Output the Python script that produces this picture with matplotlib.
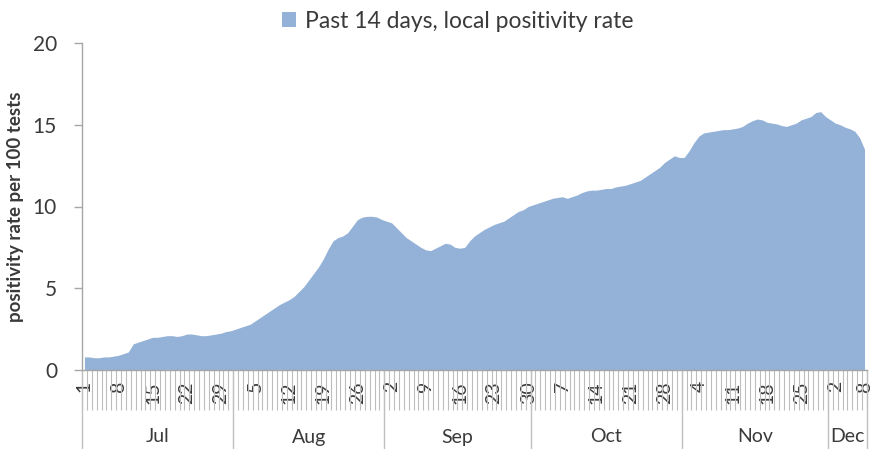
import matplotlib
matplotlib.use("Agg")
import matplotlib.pyplot as plt
from matplotlib.lines import Line2D
from matplotlib.patches import Patch

# ---- data ----
months = ["Jul", "Aug", "Sep", "Oct", "Nov", "Dec"]
month_days = [31, 31, 30, 31, 30, 8]

jul = [0.8, 0.8, 0.75, 0.75, 0.8, 0.8, 0.85, 0.9, 1.0, 1.1,
       1.6, 1.7, 1.8, 1.9, 2.0, 2.0, 2.05, 2.1, 2.1, 2.05,
       2.1, 2.2, 2.2, 2.15, 2.1, 2.1, 2.15, 2.2, 2.25, 2.35, 2.4]
aug = [2.5, 2.6, 2.7, 2.8, 3.0, 3.2, 3.4, 3.6, 3.8, 4.0,
       4.15, 4.3, 4.5, 4.8, 5.1, 5.5, 5.9, 6.3, 6.8, 7.4,
       7.9, 8.1, 8.2, 8.4, 8.8, 9.2, 9.35, 9.4, 9.4, 9.35, 9.2]
sep = [9.1, 9.0, 8.7, 8.4, 8.1, 7.9, 7.7, 7.5, 7.35, 7.3,
       7.45, 7.6, 7.75, 7.7, 7.5, 7.45, 7.5, 7.9, 8.2, 8.4,
       8.6, 8.75, 8.9, 9.0, 9.1, 9.3, 9.5, 9.7, 9.8, 10.0]
oct_ = [10.1, 10.2, 10.3, 10.4, 10.5, 10.55, 10.6, 10.5, 10.6, 10.7,
        10.85, 10.95, 11.0, 11.0, 11.05, 11.1, 11.1, 11.2, 11.25, 11.3,
        11.4, 11.5, 11.6, 11.8, 12.0, 12.2, 12.4, 12.7, 12.9, 13.1, 13.0]
nov = [13.0, 13.4, 13.9, 14.3, 14.5, 14.55, 14.6, 14.65, 14.7, 14.7,
       14.75, 14.8, 14.9, 15.1, 15.25, 15.35, 15.3, 15.15, 15.1, 15.05,
       14.95, 14.9, 15.0, 15.1, 15.3, 15.4, 15.5, 15.75, 15.8, 15.5]
dec = [15.3, 15.1, 15.0, 14.85, 14.75, 14.6, 14.2, 13.5]

values = jul + aug + sep + oct_ + nov + dec
day_numbers = []
for n in month_days:
    day_numbers += list(range(1, n + 1))

legend_label = "Past 14 days, local positivity rate"
y_label = "positivity rate per 100 tests"
y_ticks = [0, 5, 10, 15, 20]

# ---- style ----
FONT = "Lato"
plt.rcParams["font.family"] = [FONT, "DejaVu Sans"]
TXT = "#3A3A3A"
FILL = "#94B2D7"

fig = plt.figure(figsize=(8.74, 4.49), dpi=100)
ax = fig.add_axes([82 / 874, (449 - 370) / 449, (867 - 82) / 874, (370 - 43) / 449])

n = len(values)
x = list(range(n))
ax.fill_between(x, values, 0, color=FILL, linewidth=0)
ax.set_xlim(-0.5, n - 0.5)
ax.set_ylim(0, 20)

for s in ["top", "right"]:
    ax.spines[s].set_visible(False)
for s in ["left", "bottom"]:
    ax.spines[s].set_color("#A6A6A6")
    ax.spines[s].set_linewidth(1.0)

ax.set_yticks(y_ticks)
ax.set_yticklabels([str(v) for v in y_ticks], fontsize=15, color=TXT)
ax.tick_params(axis="y", length=6, width=1, color="#A6A6A6", pad=12)

# day labels every 7 days plus last day
lab_idx = list(range(0, n, 7))
if lab_idx[-1] != n - 1:
    lab_idx.append(n - 1)
ax.set_xticks(lab_idx)
ax.set_xticklabels([str(day_numbers[i]) for i in lab_idx], rotation=90,
                   fontsize=14, color=TXT)
ax.tick_params(axis="x", which="major", length=0, pad=8)
ax.set_xticks([i + 0.5 for i in range(-1, n)], minor=True)
ax.tick_params(axis="x", which="minor", length=29, width=0.8, color="#BDBDBD",
               direction="out")

# month separators and labels
tr = ax.get_xaxis_transform()
row_bot = (370 - 452) / 327
bounds = [-0.5]
for d in month_days:
    bounds.append(bounds[-1] + d)
for b in bounds:
    ax.add_line(Line2D([b, b], [0, row_bot], transform=tr, color="#BFBFBF",
                       linewidth=1.0, clip_on=False))
for i, m in enumerate(months):
    c = (bounds[i] + bounds[i + 1]) / 2
    ax.text(c, (370 - 437) / 327, m, transform=tr, ha="center", va="center",
            fontsize=14, color=TXT, clip_on=False)

ax.set_ylabel(y_label, fontsize=13.5, fontweight="bold", color=TXT, labelpad=6)

fig.legend(handles=[Patch(facecolor=FILL, edgecolor="none", label=legend_label)],
           loc="center", bbox_to_anchor=(458 / 874, 1 - 21 / 449), frameon=False,
           fontsize=16.5, handlelength=0.6, handleheight=0.6, handletextpad=0.4,
           labelcolor=TXT)

fig.savefig("out.png", dpi=100)
